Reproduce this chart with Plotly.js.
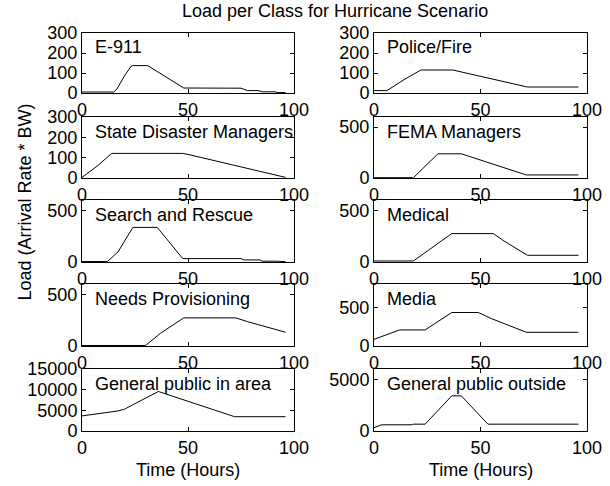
<!DOCTYPE html>
<html>
<head>
<meta charset="utf-8">
<script src="https://cdn.plot.ly/plotly-3.0.1.min.js"></script>
<style>html,body{margin:0;padding:0;background:#fff;}#chart{width:610px;height:486px;}</style>
</head>
<body>
<div id="chart"></div>
<script>
// ---- data ----
const classNames = ["E-911", "Police/Fire", "State Disaster Managers", "FEMA Managers",
  "Search and Rescue", "Medical", "Needs Provisioning", "Media",
  "General public in area", "General public outside"];

const e911Hours = [0, 15, 16.5, 20, 23, 24, 31, 48, 75, 78, 83, 85, 91, 92.5, 96];
const e911Load  = [5, 5, 20, 85, 132, 137, 137, 25, 24, 12, 12, 6, 6, 2, 2];

const policeHours = [0, 6, 8, 14, 22, 37, 72, 96];
const policeLoad  = [12, 12, 25, 66, 115, 115, 30, 30];

const stateHours = [0, 7, 14, 47.5, 50, 96];
const stateLoad  = [3, 57, 121, 121, 116, 3];

const femaHours = [0, 18.5, 30, 41, 71.5, 96];
const femaLoad  = [3, 3, 238, 238, 30, 30];

const searchHours = [0, 12, 17, 24, 35.5, 47.5, 75, 76.5, 84, 85, 92, 96];
const searchLoad  = [5, 5, 98, 335, 335, 33, 33, 20, 20, 8, 8, 3];

const medicalHours = [0, 18.5, 25.5, 36.5, 56, 61, 72, 96];
const medicalLoad  = [10, 10, 113, 275, 275, 204, 65, 65];

const needsHours = [0, 30, 37, 48, 72.5, 78, 96];
const needsLoad  = [5, 5, 123, 272, 272, 236, 133];

const mediaHours = [0, 12, 24, 36.5, 49, 55, 71.5, 96];
const mediaLoad  = [86, 207, 207, 432, 432, 355, 177, 177];

const publicInHours = [0, 17, 20, 36, 72, 96];
const publicInLoad  = [3650, 4860, 5270, 9560, 3460, 3460];

const publicOutHours = [0, 3.5, 17.5, 18.5, 24, 36.5, 41, 53.5, 96];
const publicOutLoad  = [320, 600, 600, 660, 660, 3400, 3400, 660, 660];

const yRanges = [[0,300],[0,300],[0,300],[0,600],[0,600],[0,600],[0,600],[0,800],[0,15000],[0,6000]];
const yTicks  = [[0,100,200,300],[0,100,200,300],[0,100,200,300],[0,500],[0,500],[0,500],[0,500],[0,500],[0,5000,10000,15000],[0,5000]];
const xTicks  = [0, 50, 100];

const seriesHours = [e911Hours, policeHours, stateHours, femaHours, searchHours, medicalHours, needsHours, mediaHours, publicInHours, publicOutHours];
const seriesLoad  = [e911Load, policeLoad, stateLoad, femaLoad, searchLoad, medicalLoad, needsLoad, mediaLoad, publicInLoad, publicOutLoad];

// ---- layout geometry ----
const W = 610, H = 486;
const colPx = [[82, 294], [374, 587]];
const rowPx = [[33, 93], [117, 178], [200, 262], [284, 346], [369, 431]];
const FONT = "Liberation Sans, Arial, sans-serif";
const FS = 18;

const traces = [];
const layout = {
  width: W, height: H,
  margin: {l: 0, r: 0, t: 0, b: 0},
  paper_bgcolor: "#fff", plot_bgcolor: "#fff",
  showlegend: false,
  font: {family: FONT, size: FS, color: "#000"},
  annotations: []
};

for (let i = 0; i < 10; i++) {
  const row = Math.floor(i / 2), col = i % 2;
  const n = i + 1;
  const xa = "x" + (n === 1 ? "" : n), ya = "y" + (n === 1 ? "" : n);
  traces.push({
    x: seriesHours[i], y: seriesLoad[i], type: "scatter", mode: "lines",
    xaxis: xa, yaxis: ya,
    line: {color: "#000", width: 1}, hoverinfo: "skip"
  });
  const common = {
    showline: true, mirror: "ticks", linecolor: "#000", linewidth: 1,
    ticks: "inside", ticklen: 4, tickcolor: "#000", tickwidth: 1,
    showgrid: false, zeroline: false, fixedrange: true,
    tickfont: {family: FONT, size: FS, color: "#000"}
  };
  layout["xaxis" + (n === 1 ? "" : n)] = Object.assign({}, common, {
    domain: [colPx[col][0] / W, colPx[col][1] / W],
    range: [0, 100], tickmode: "array", tickvals: xTicks,
    ticktext: xTicks.map(String),
    anchor: ya, ticklabelstandoff: 0
  });
  layout["yaxis" + (n === 1 ? "" : n)] = Object.assign({}, common, {
    domain: [1 - rowPx[row][1] / H, 1 - rowPx[row][0] / H],
    range: yRanges[i], tickmode: "array", tickvals: yTicks[i],
    ticktext: yTicks[i].map(String),
    anchor: xa, ticklabelstandoff: 0
  });
  layout.annotations.push({
    text: classNames[i], xref: xa, x: 5, xanchor: "left",
    yref: ya + " domain", y: 1 - 14.5 / 61, yanchor: "middle",
    showarrow: false, font: {family: FONT, size: FS, color: "#000"}
  });
}

layout.annotations.push({
  text: "Load per Class for Hurricane Scenario", xref: "paper", yref: "paper",
  x: 334.5 / W, y: 1 - 11 / H, xanchor: "center", yanchor: "middle",
  showarrow: false, font: {family: FONT, size: FS, color: "#000"}
});
layout.annotations.push({
  text: "Time (Hours)", xref: "paper", yref: "paper",
  x: 188 / W, y: 1 - 470 / H, xanchor: "center", yanchor: "middle",
  showarrow: false, font: {family: FONT, size: FS, color: "#000"}
});
layout.annotations.push({
  text: "Time (Hours)", xref: "paper", yref: "paper",
  x: 480.5 / W, y: 1 - 470 / H, xanchor: "center", yanchor: "middle",
  showarrow: false, font: {family: FONT, size: FS, color: "#000"}
});
layout.annotations.push({
  text: "Load (Arrival Rate * BW)", xref: "paper", yref: "paper",
  x: 24 / W, y: 1 - 202.5 / H, xanchor: "center", yanchor: "middle",
  textangle: -90,
  showarrow: false, font: {family: FONT, size: FS, color: "#000"}
});

Plotly.newPlot("chart", traces, layout, {staticPlot: true, displayModeBar: false});
</script>
</body>
</html>
